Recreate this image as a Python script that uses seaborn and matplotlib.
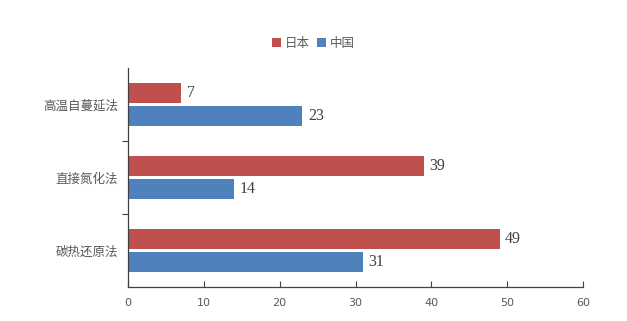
import matplotlib
matplotlib.use("Agg")
import matplotlib.pyplot as plt
import seaborn as sns
import pandas as pd
from matplotlib.ticker import FixedLocator

categories = ["高温自蔓延法", "直接氮化法", "碳热还原法"]
series = ["日本", "中国"]
japan = [7, 39, 49]
china = [23, 14, 31]
xticks = [0, 10, 20, 30, 40, 50, 60]

df = pd.DataFrame({
    "method": categories * 2,
    "country": [series[0]] * 3 + [series[1]] * 3,
    "value": japan + china,
})

sns.set_theme(style="white")
plt.rcParams["font.family"] = ["Noto Sans CJK SC", "DejaVu Sans"]

fig = plt.figure(figsize=(6.27, 3.21), dpi=100)
ax = fig.add_axes([128 / 627, 1 - 287 / 321, (583 - 128) / 627, (287 - 68) / 321])

palette = {"日本": "#C0504D", "中国": "#4F81BD"}
sns.barplot(data=df, y="method", x="value", hue="country", order=categories,
            hue_order=series, palette=palette, orient="h", width=0.64, gap=0.14,
            saturation=1, linewidth=0, ax=ax, legend=True)

for cont in ax.containers:
    ax.bar_label(cont, padding=4, fontsize=11.5, color="#404040",
                 family="Liberation Serif")

ax.set_xlim(0, 60)
ax.set_ylim(2.5, -0.5)
ax.set_xticks(xticks)
ax.set_xticklabels([str(t) for t in xticks], fontsize=8, color="#595959",
                   family="DejaVu Sans")
ax.set_xlabel("")
ax.set_ylabel("")
ax.tick_params(axis="y", which="major", length=0, labelsize=9, labelcolor="#595959", pad=7)
ax.yaxis.set_minor_locator(FixedLocator([0.5, 1.5]))
ax.tick_params(axis="y", which="minor", length=4, direction="out", color="#404040", width=0.8, left=True)
ax.tick_params(axis="x", length=4, direction="in", color="#404040", width=0.8, bottom=True, pad=8)

for s in ["top", "right"]:
    ax.spines[s].set_visible(False)
for s in ["left", "bottom"]:
    ax.spines[s].set_color("#404040")
    ax.spines[s].set_linewidth(0.9)

handles, labels = ax.get_legend_handles_labels()
ax.get_legend().remove()
fig.legend(handles, labels, loc="center", bbox_to_anchor=(0.5, 1 - 43 / 321),
           ncol=2, frameon=False, fontsize=9, handlelength=0.7, handleheight=0.7,
           handletextpad=0.3, columnspacing=0.6, labelcolor="#595959")

fig.savefig("out.png", dpi=100)
